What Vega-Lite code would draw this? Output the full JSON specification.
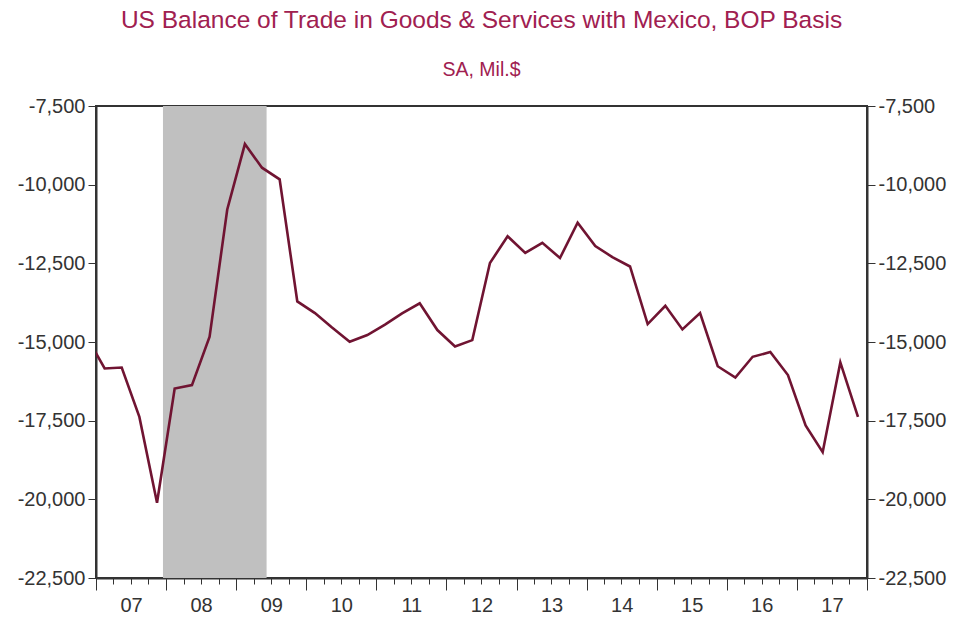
{
  "$schema": "https://vega.github.io/schema/vega-lite/v6.json",
  "width": 771,
  "height": 472,
  "autosize": {"type": "none"},
  "padding": {"left": 96, "top": 106, "right": 91, "bottom": 39},
  "background": "white",
  "title": {
    "text": "US Balance of Trade in Goods & Services with Mexico, BOP Basis",
    "subtitle": "SA, Mil.$",
    "anchor": "middle",
    "font": "Liberation Sans",
    "subtitleFont": "Liberation Sans",
    "fontSize": 24.5,
    "subtitleFontSize": 19.5,
    "fontWeight": "normal",
    "color": "#A02050",
    "subtitleColor": "#A02050",
    "subtitlePadding": 27,
    "offset": 16
  },
  "config": {
    "view": {"stroke": "#333333", "strokeWidth": 2},
    "axis": {
      "labelFont": "Liberation Sans",
      "labelFontSize": 20,
      "labelColor": "#333333",
      "tickColor": "#333333",
      "domainColor": "#333333",
      "domainWidth": 2,
      "grid": false,
      "title": null
    }
  },
  "datasets": {
    "trade": [
      {"date": "2006-11-15", "value": -14850},
      {"date": "2007-02-15", "value": -15840},
      {"date": "2007-05-15", "value": -15810},
      {"date": "2007-08-15", "value": -17380},
      {"date": "2007-11-15", "value": -20110},
      {"date": "2008-02-15", "value": -16480},
      {"date": "2008-05-15", "value": -16370},
      {"date": "2008-08-15", "value": -14830},
      {"date": "2008-11-15", "value": -10790},
      {"date": "2009-02-15", "value": -8710},
      {"date": "2009-05-15", "value": -9460},
      {"date": "2009-08-15", "value": -9830},
      {"date": "2009-11-15", "value": -13710},
      {"date": "2010-02-15", "value": -14080},
      {"date": "2010-05-15", "value": -14540},
      {"date": "2010-08-15", "value": -14990},
      {"date": "2010-11-15", "value": -14780},
      {"date": "2011-02-15", "value": -14450},
      {"date": "2011-05-15", "value": -14090},
      {"date": "2011-08-15", "value": -13770},
      {"date": "2011-11-15", "value": -14620},
      {"date": "2012-02-15", "value": -15140},
      {"date": "2012-05-15", "value": -14940},
      {"date": "2012-08-15", "value": -12490},
      {"date": "2012-11-15", "value": -11640},
      {"date": "2013-02-15", "value": -12170},
      {"date": "2013-05-15", "value": -11850},
      {"date": "2013-08-15", "value": -12330},
      {"date": "2013-11-15", "value": -11210},
      {"date": "2014-02-15", "value": -11950},
      {"date": "2014-05-15", "value": -12300},
      {"date": "2014-08-15", "value": -12600},
      {"date": "2014-11-15", "value": -14430},
      {"date": "2015-02-15", "value": -13850},
      {"date": "2015-05-15", "value": -14600},
      {"date": "2015-08-15", "value": -14080},
      {"date": "2015-11-15", "value": -15770},
      {"date": "2016-02-15", "value": -16130},
      {"date": "2016-05-15", "value": -15470},
      {"date": "2016-08-15", "value": -15320},
      {"date": "2016-11-15", "value": -16050},
      {"date": "2017-02-15", "value": -17650},
      {"date": "2017-05-15", "value": -18500},
      {"date": "2017-08-15", "value": -15650},
      {"date": "2017-11-15", "value": -17380}
    ],
    "recession": [
      {"start": "2007-12-16", "end": "2009-06-08"}
    ]
  },
  "layer": [
    {
      "data": {"name": "recession"},
      "mark": {"type": "rect", "color": "#C0C0C0", "clip": true},
      "encoding": {
        "x": {"field": "start", "type": "temporal", "scale": {"type": "utc", "domain": ["2007-01-01", "2018-01-01"]},
          "axis": {
            "orient": "bottom",
            "tickCount": {"interval": "month", "step": 3},
            "labelExpr": "utcmonth(datum.value) == 0 && utcyear(datum.value) < 2018 ? utcFormat(datum.value, '%y') : ''",
            "tickSize": {"condition": {"test": "utcmonth(datum.value) == 0", "value": 12}, "value": 6},
            "labelOffset": 35,
            "labelPadding": 5,
            "labelOverlap": false,
            "labelFlush": false,
            "labelBound": false,
            "domain": true
          }},
        "x2": {"field": "end"}
      }
    },
    {
      "data": {"name": "trade"},
      "mark": {"type": "line", "color": "#701432", "strokeWidth": 2.6, "clip": true},
      "encoding": {
        "x": {"field": "date", "type": "temporal"},
        "y": {"field": "value", "type": "quantitative",
          "scale": {"domain": [-22500, -7500], "nice": false, "zero": false},
          "axis": {
            "orient": "left",
            "values": [-22500, -20000, -17500, -15000, -12500, -10000, -7500],
            "labelExpr": "replace(format(datum.value, ','), '\u2212', '-')",
            "tickSize": 8,
            "labelPadding": 3,
            "domain": true
          }}
      }
    },
    {
      "data": {"name": "trade"},
      "mark": {"type": "line", "strokeOpacity": 0, "clip": true},
      "encoding": {
        "x": {"field": "date", "type": "temporal"},
        "y": {"field": "value", "type": "quantitative",
          "axis": {
            "orient": "right",
            "values": [-22500, -20000, -17500, -15000, -12500, -10000, -7500],
            "labelExpr": "replace(format(datum.value, ','), '\u2212', '-')",
            "tickSize": 8,
            "labelPadding": 3,
            "domain": true
          }}
      }
    }
  ],
  "resolve": {"axis": {"y": "independent"}}
}
